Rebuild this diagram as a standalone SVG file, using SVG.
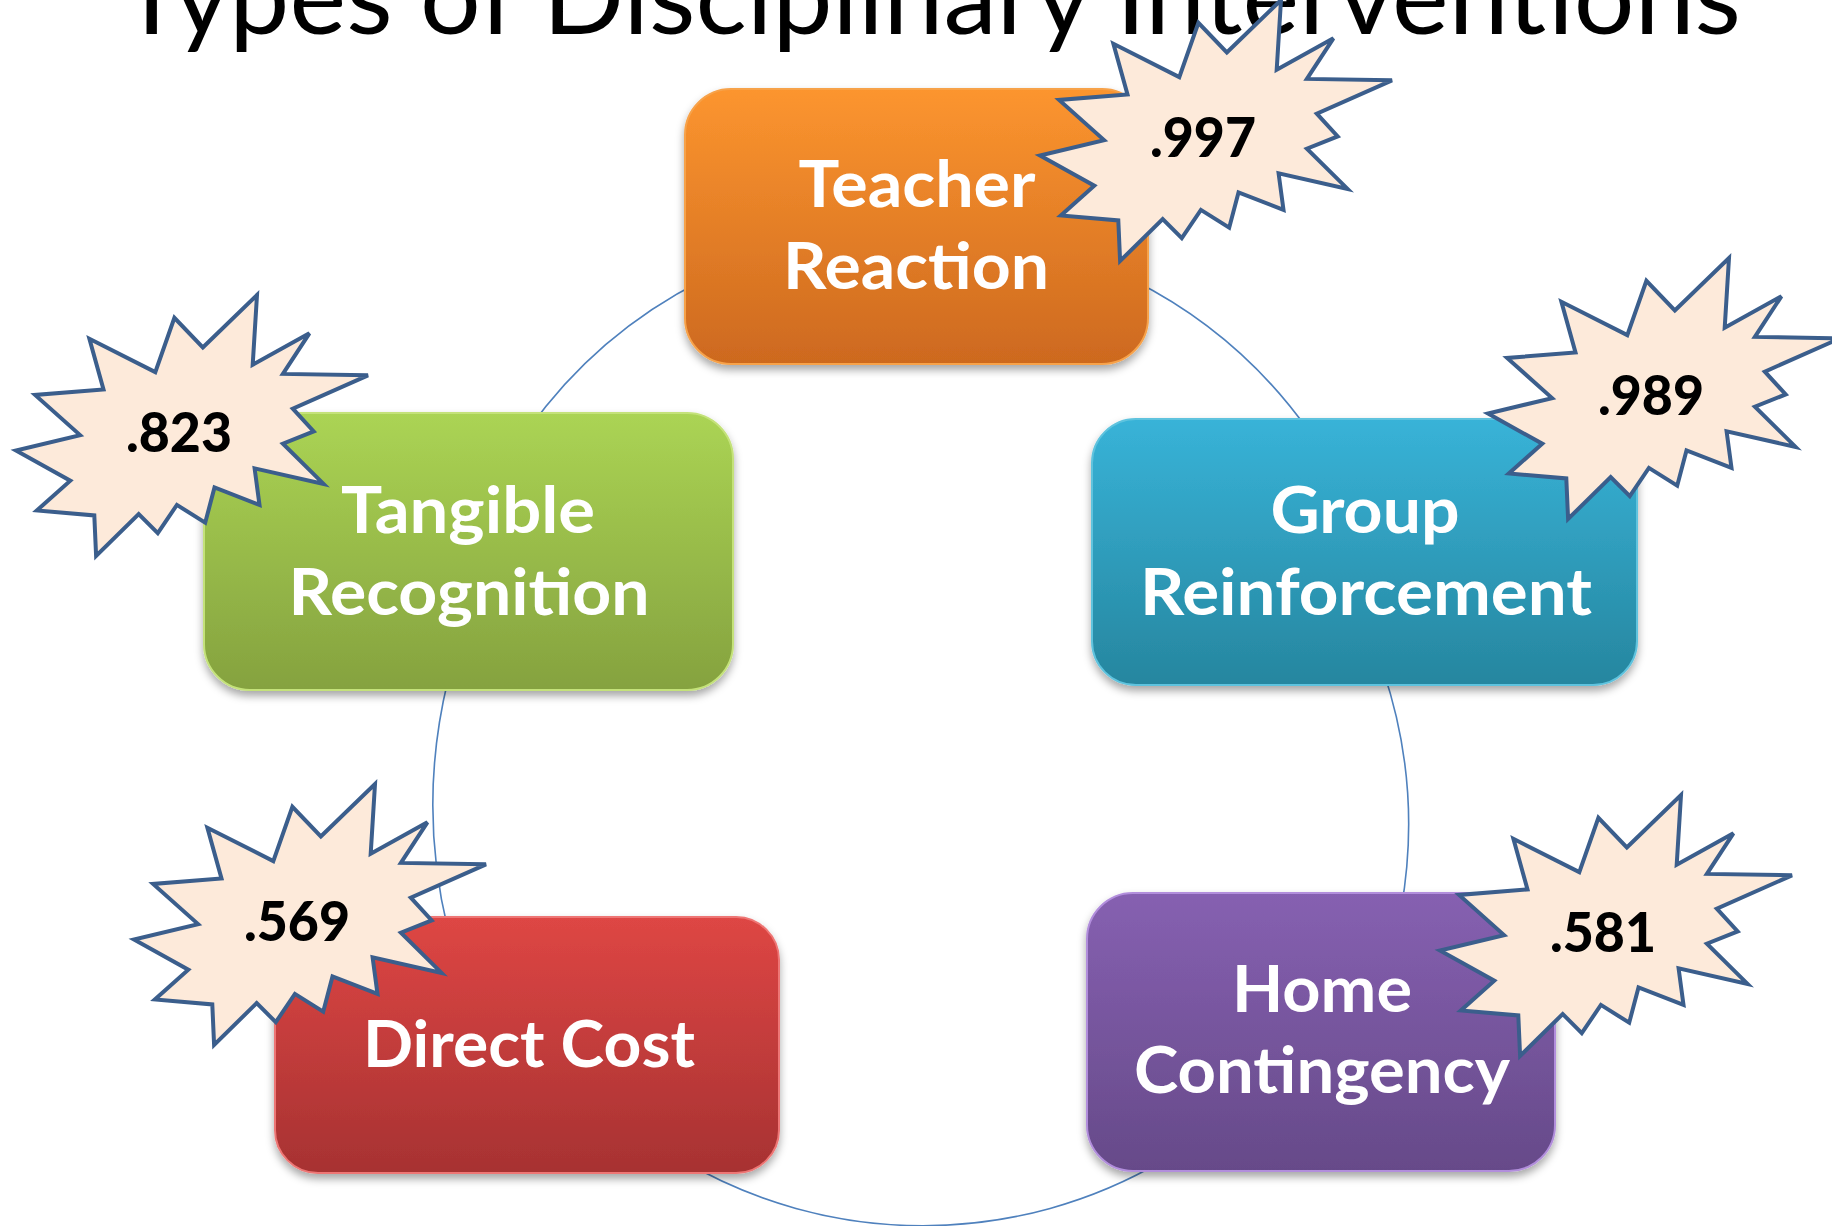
<svg xmlns="http://www.w3.org/2000/svg" width="1832" height="1226" viewBox="0 0 1832 1226">
<style>
  .title { font-family: Lato, "Open Sans", "Liberation Sans", sans-serif; font-size: 104px; fill: #000; }
  .lbl { font-family: Lato, "Open Sans", "Liberation Sans", sans-serif; font-weight: 700; font-size: 65px; fill: #fff; text-anchor: middle; }
  .val { font-family: Lato, "Open Sans", "Liberation Sans", sans-serif; font-weight: 900; font-size: 56px; fill: #000; text-anchor: middle; }
  .arc { fill: none; stroke: #4F81BD; stroke-width: 1.6; }
  .box { filter: url(#sh); stroke-width: 2; }
  .star { fill: #FDEADA; stroke: #3B5E8C; stroke-width: 4; stroke-linejoin: miter; }
</style>
<defs>
  <filter id="sh" x="-10%" y="-10%" width="120%" height="130%">
    <feDropShadow dx="0" dy="5" stdDeviation="4" flood-color="#000" flood-opacity="0.35"/>
  </filter>
  <linearGradient id="gOrange" x1="0" y1="0" x2="0" y2="1">
    <stop offset="0" stop-color="#FC952F"/><stop offset="1" stop-color="#CD691F"/>
  </linearGradient>
  <linearGradient id="gGreen" x1="0" y1="0" x2="0" y2="1">
    <stop offset="0" stop-color="#ABD454"/><stop offset="1" stop-color="#85A23F"/>
  </linearGradient>
  <linearGradient id="gBlue" x1="0" y1="0" x2="0" y2="1">
    <stop offset="0" stop-color="#38B3D8"/><stop offset="1" stop-color="#26869F"/>
  </linearGradient>
  <linearGradient id="gRed" x1="0" y1="0" x2="0" y2="1">
    <stop offset="0" stop-color="#DE4644"/><stop offset="1" stop-color="#A73232"/>
  </linearGradient>
  <linearGradient id="gPurple" x1="0" y1="0" x2="0" y2="1">
    <stop offset="0" stop-color="#8660B1"/><stop offset="1" stop-color="#664A89"/>
  </linearGradient>
  <path id="star" class="star" d="M186.8,52.5 L241,0 L236.7,69.8 L293.4,38.3 L266.9,78.9 L352,80.3 L276.8,113.6 L297.7,136.4 L266.9,148.7 L307.6,188.9 L238.6,173.4 L243.5,209.9 L198.5,192.5 L189.2,227.7 L160.9,209.9 L141.8,238.2 L122.7,219 L80.1,261 L78.3,220.4 L20.9,215.4 L54.3,185.7 L0,155.6 L64.1,140.1 L19.1,99.9 L87.5,94.5 L73.4,43.8 L139.3,77.1 L158.4,22.8 Z"/>
</defs>
<rect width="1832" height="1226" fill="#fff"/>

<g id="title">
  <text class="title" x="120" y="34" textLength="1621" lengthAdjust="spacingAndGlyphs">Types of Disciplinary Interventions</text>
</g>

<g id="connectors">
  <path class="arc" d="M528,430 A479,479 0 0 1 703,280"/>
  <path class="arc" d="M1133,280 A479,479 0 0 1 1308,430"/>
  <path class="arc" d="M1383,670 A485,485 0 0 1 1401,910"/>
  <path class="arc" d="M1164,1160 A474.6,474.6 0 0 1 682,1160"/>
  <path class="arc" d="M448,930 A528.7,528.7 0 0 1 448,680"/>
</g>

<g id="node-teacher-reaction">
  <rect class="box" x="685" y="89" width="463" height="275" rx="46" fill="url(#gOrange)" stroke="#F7A24A"/>
  <text class="lbl" x="917" y="207" textLength="237" lengthAdjust="spacingAndGlyphs">Teacher</text>
  <text class="lbl" x="916" y="289" textLength="266" lengthAdjust="spacingAndGlyphs">Reaction</text>
</g>

<g id="node-tangible-recognition">
  <rect class="box" x="204" y="413" width="529" height="277" rx="46" fill="url(#gGreen)" stroke="#C4E27A"/>
  <text class="lbl" x="468" y="533" textLength="254" lengthAdjust="spacingAndGlyphs">Tangible</text>
  <text class="lbl" x="469" y="615" textLength="361" lengthAdjust="spacingAndGlyphs">Recognition</text>
</g>

<g id="node-group-reinforcement">
  <rect class="box" x="1092" y="419" width="545" height="266" rx="44" fill="url(#gBlue)" stroke="#5EC3DE"/>
  <text class="lbl" x="1365" y="533" textLength="189" lengthAdjust="spacingAndGlyphs">Group</text>
  <text class="lbl" x="1366" y="615" textLength="452" lengthAdjust="spacingAndGlyphs">Reinforcement</text>
</g>

<g id="node-direct-cost">
  <rect class="box" x="275" y="917" width="504" height="256" rx="43" fill="url(#gRed)" stroke="#EE7674"/>
  <text class="lbl" x="529" y="1067" textLength="332" lengthAdjust="spacingAndGlyphs">Direct Cost</text>
</g>

<g id="node-home-contingency">
  <rect class="box" x="1087" y="893" width="468" height="278" rx="46" fill="url(#gPurple)" stroke="#B28EDC"/>
  <text class="lbl" x="1322" y="1012" textLength="180" lengthAdjust="spacingAndGlyphs">Home</text>
  <text class="lbl" x="1322" y="1093" textLength="376" lengthAdjust="spacingAndGlyphs">Contingency</text>
</g>

<g id="badge-997">
  <use href="#star" x="1040" y="0"/>
  <text class="val" x="1203" y="157" textLength="106" lengthAdjust="spacingAndGlyphs">.997</text>
</g>
<g id="badge-823">
  <use href="#star" x="16" y="295"/>
  <text class="val" x="179" y="452" textLength="106" lengthAdjust="spacingAndGlyphs">.823</text>
</g>
<g id="badge-989">
  <use href="#star" x="1488" y="258"/>
  <text class="val" x="1651" y="415" textLength="106" lengthAdjust="spacingAndGlyphs">.989</text>
</g>
<g id="badge-569">
  <use href="#star" x="134" y="784"/>
  <text class="val" x="297" y="941" textLength="106" lengthAdjust="spacingAndGlyphs">.569</text>
</g>
<g id="badge-581">
  <use href="#star" x="1440" y="795"/>
  <text class="val" x="1603" y="952" textLength="106" lengthAdjust="spacingAndGlyphs">.581</text>
</g>
</svg>
